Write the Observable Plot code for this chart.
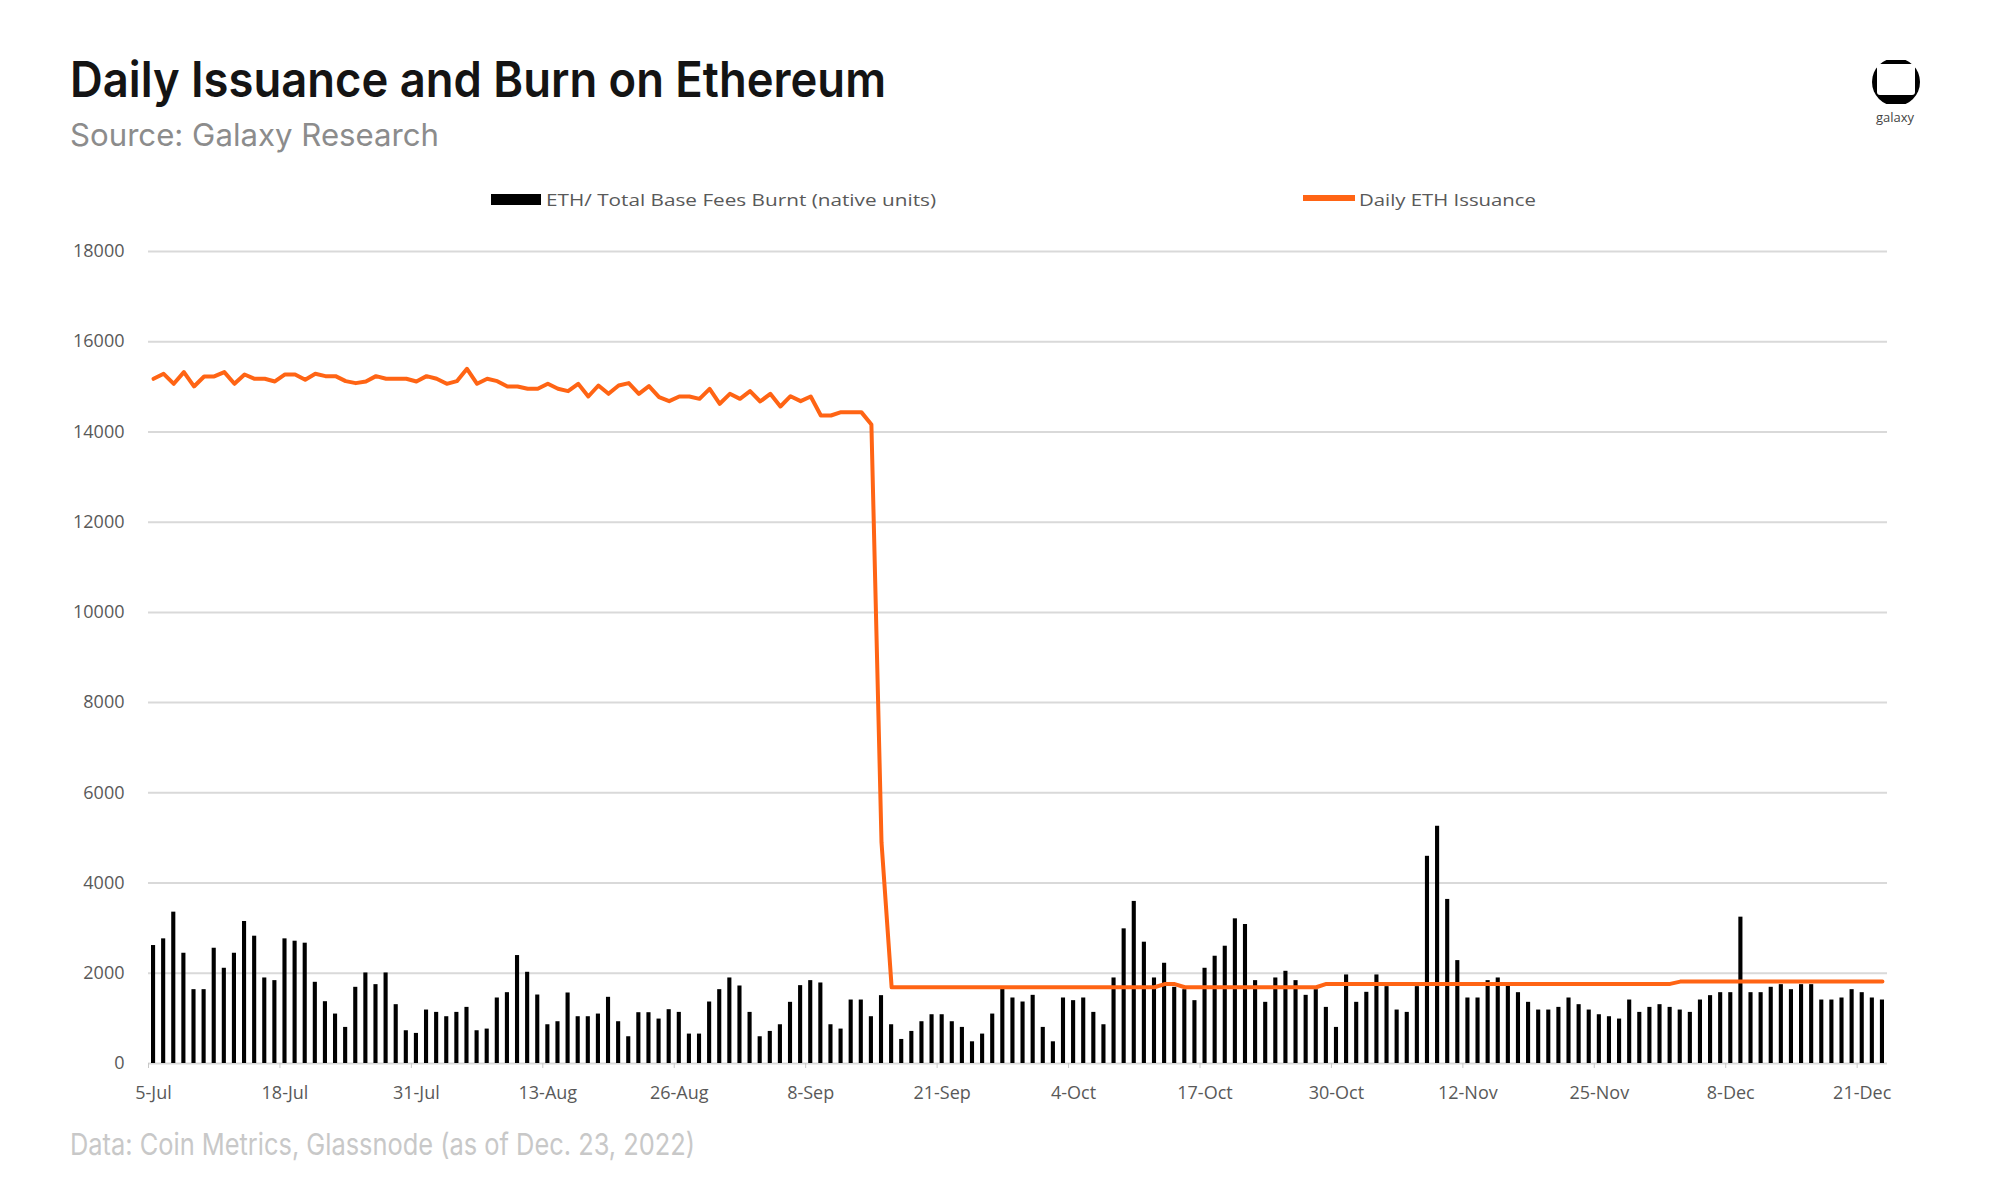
<!DOCTYPE html>
<html>
<head>
<meta charset="utf-8">
<script src="https://cdn.jsdelivr.net/npm/d3@7"></script>
<script src="https://cdn.jsdelivr.net/npm/@observablehq/plot@0.6"></script>
<style>
html, body { margin: 0; padding: 0; background: #fff; }
#wrap { position: relative; width: 2000px; height: 1194px; overflow: hidden; }
#chart { position: absolute; left: 0; top: 0; }
#overlay { position: absolute; left: 0; top: 0; }
</style>
</head>
<body>
<div id="wrap">
  <div id="chart"></div>
  <svg id="overlay" width="2000" height="1194" xmlns="http://www.w3.org/2000/svg">
    <text x="70" y="97" font-family="Inter, 'Open Sans', sans-serif" font-size="49" font-weight="600" fill="#141414" textLength="816" lengthAdjust="spacingAndGlyphs">Daily Issuance and Burn on Ethereum</text>
    <text x="70" y="146" font-family="Inter, 'Open Sans', sans-serif" font-size="31" font-weight="400" fill="#8c8c8c" textLength="369" lengthAdjust="spacingAndGlyphs">Source: Galaxy Research</text>
    <rect x="491" y="194" width="50" height="11" fill="#000"></rect>
    <text x="546" y="206" font-family="'Open Sans', sans-serif" font-size="17" fill="#595959" textLength="390" lengthAdjust="spacingAndGlyphs">ETH/ Total Base Fees Burnt (native units)</text>
    <line x1="1303" x2="1355" y1="198" y2="198" stroke="#ff6414" stroke-width="6"></line>
    <text x="1359" y="206" font-family="'Open Sans', sans-serif" font-size="17" fill="#595959" textLength="177" lengthAdjust="spacingAndGlyphs">Daily ETH Issuance</text>
    <clipPath id="logoclip"><rect x="1868" y="60" width="56" height="44"></rect></clipPath>
    <circle cx="1896" cy="82" r="24" fill="#000" clip-path="url(#logoclip)"></circle>
    <rect x="1877" y="64" width="38" height="31" rx="3" fill="#fff"></rect>
    <text x="1895" y="122" text-anchor="middle" font-family="'Open Sans', sans-serif" font-size="13" fill="#444">galaxy</text>
    <text x="70" y="1155" font-family="Inter, 'Open Sans', sans-serif" font-size="30" font-weight="400" fill="#c8c8c8" textLength="625" lengthAdjust="spacingAndGlyphs">Data: Coin Metrics, Glassnode (as of Dec. 23, 2022)</text>
  </svg>
</div>
<script>
// First day of the series (5-Jul-2022) and number of daily categories
const startDate = "2022-07-05";
const dayCount = 172;

// ETH / Total Base Fees Burnt (native units), daily
const burn = [
  2615, 2763, 3355, 2444, 1637, 1637, 2555, 2111, 2444, 3148, 2822, 1896, 1837, 2763, 2711, 2667, 1800, 1370, 1096, 800, 1689, 2007, 1748, 2007, 1304, 726, 667, 1185, 1133,
  1037, 1133, 1244, 726, 763, 1452, 1570, 2393, 2022, 1518, 859, 926, 1563, 1037, 1037, 1096, 1467, 926, 593, 1126, 1126, 985, 1193, 1133, 652, 652, 1363, 1637, 1896, 1718,
  1133, 593, 711, 859, 1356, 1726, 1837, 1785, 859, 763, 1407, 1407, 1037, 1504, 859, 533, 711, 926, 1081, 1081, 926, 800, 481, 652, 1096, 1644, 1452, 1363, 1511,
  800, 481, 1452, 1393, 1452, 1133, 859, 1896, 2985, 3593, 2689, 1896, 2222, 1689, 1637, 1393, 2111, 2378, 2600, 3207, 3081, 1837, 1356, 1896, 2044, 1837, 1511, 1637, 1244,
  800, 1963, 1356, 1578, 1963, 1704, 1185, 1133, 1704, 4593, 5259, 3637, 2281, 1452, 1452, 1837, 1896, 1726, 1570, 1356, 1185, 1185, 1244, 1452, 1304, 1185, 1081, 1037, 985,
  1407, 1133, 1244, 1304, 1244, 1185, 1133, 1407, 1504, 1570, 1570, 3244, 1570, 1570, 1689, 1748, 1637, 1748, 1748, 1407, 1407, 1452, 1637, 1570, 1452, 1407
];

// Daily ETH Issuance
const issuance = [
  15178, 15289, 15067, 15326, 15008, 15230, 15230, 15326, 15067, 15274, 15178, 15178, 15119, 15274, 15274, 15156, 15289, 15237, 15237, 15126,
  15082, 15119, 15237, 15178, 15178, 15178, 15119, 15237, 15178, 15067, 15126, 15400, 15067, 15178, 15126, 15008, 15008,
  14956, 14956, 15067, 14956, 14904, 15067, 14786, 15030, 14845, 15030, 15082, 14845, 15015, 14771, 14683, 14786, 14786, 14734, 14956, 14624,
  14845, 14734, 14904, 14675, 14845, 14564, 14793, 14683, 14786, 14365, 14365, 14439, 14439, 14439, 14165,
  4900,
  1690, 1690, 1690, 1690, 1690, 1690, 1690, 1690, 1690, 1690, 1690, 1690, 1690, 1690, 1690, 1690, 1690, 1690, 1690, 1690, 1690, 1690, 1690, 1690, 1690, 1690, 1690,
  1760, 1760,
  1690, 1690, 1690, 1690, 1690, 1690, 1690, 1690, 1690, 1690, 1690, 1690, 1690, 1690,
  1765, 1765, 1765, 1765, 1765, 1765, 1765, 1765, 1765, 1765, 1765, 1765, 1765, 1765, 1765, 1765, 1765, 1765, 1765, 1765,
  1765, 1765, 1765, 1765, 1765, 1765, 1765, 1765, 1765, 1765, 1765, 1765, 1765, 1765, 1765,
  1815, 1815, 1815, 1815, 1815, 1815, 1815, 1815, 1815, 1815, 1815, 1815, 1815, 1815, 1815, 1815, 1815, 1815, 1815, 1815, 1815
];

// Axis ticks
const xTickDates = ["2022-07-05", "2022-07-18", "2022-07-31", "2022-08-13", "2022-08-26", "2022-09-08", "2022-09-21",
                    "2022-10-04", "2022-10-17", "2022-10-30", "2022-11-12", "2022-11-25", "2022-12-08", "2022-12-21"];
const xTickLabels = ["5-Jul", "18-Jul", "31-Jul", "13-Aug", "26-Aug", "8-Sep", "21-Sep",
                     "4-Oct", "17-Oct", "30-Oct", "12-Nov", "25-Nov", "8-Dec", "21-Dec"];
const yTicks = [0, 2000, 4000, 6000, 8000, 10000, 12000, 14000, 16000, 18000];

const start = new Date(startDate);
const end = d3.utcDay.offset(start, dayCount);
const rows = d3.range(dayCount).map(i => {
  const d0 = d3.utcDay.offset(start, i);
  const d1 = d3.utcDay.offset(start, i + 1);
  return {d0, d1, mid: new Date((+d0 + +d1) / 2), burn: burn[i], iss: issuance[i]};
});
const tickDates = xTickDates.map(s => new Date(s));
const labelMap = new Map(tickDates.map((d, i) => [+d, xTickLabels[i]]));

const chart = Plot.plot({
  width: 2000,
  height: 1194,
  marginLeft: 148,
  marginRight: 113,
  marginTop: 251,
  marginBottom: 131,
  style: {fontFamily: "'Open Sans', sans-serif", background: "transparent", overflow: "visible"},
  x: {type: "utc", domain: [start, end]},
  y: {domain: [0, 18000]},
  marks: [
    Plot.ruleY(yTicks, {stroke: "#d9d9d9", strokeWidth: 2}),
    Plot.rectY(rows, {x1: "d0", x2: "d1", y: "burn", fill: "#000", insetLeft: 3, insetRight: 3}),
    Plot.line(rows, {x: "mid", y: "iss", stroke: "#ff6414", strokeWidth: 4, strokeLinejoin: "round"}),
    Plot.axisX({ticks: tickDates, tickFormat: d => labelMap.get(+d), tickSize: 5, tickPadding: 18,
                fontSize: 18, fill: "#595959", stroke: "#c8c8c8", label: null}),
    Plot.axisX({ticks: tickDates, tickFormat: () => "", tickSize: 0, label: null}),
    Plot.axisY({ticks: yTicks, tickFormat: d => String(d), tickSize: 0, tickPadding: 24,
                fontSize: 18, fill: "#595959", label: null})
  ]
});
// shift x tick labels slightly right, as in the reference (labels centred on the day)
chart.querySelectorAll('[aria-label="x-axis tick label"] text').forEach(t => t.setAttribute("dx", "5"));
document.getElementById("chart").appendChild(chart);
</script>
</body>
</html>
